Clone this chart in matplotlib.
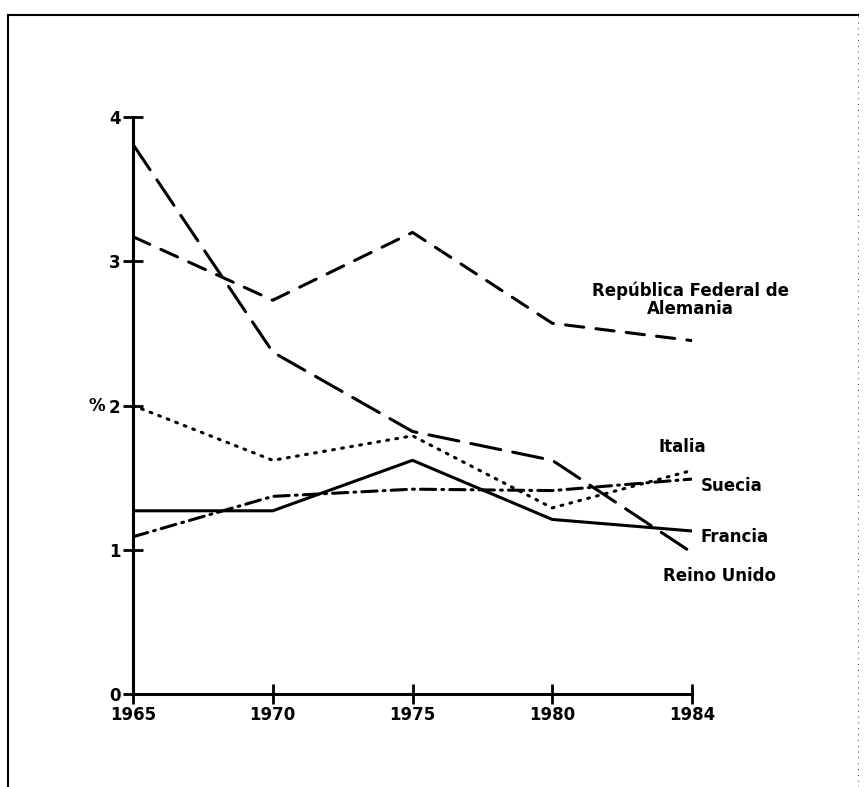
import matplotlib.pyplot as plt
from matplotlib.lines import Line2D

years = ['1965', '1970', '1975', '1980', '1984']
reino_unido = [3.81, 2.37, 1.82, 1.62, 0.98]
alemania = [3.17, 2.73, 3.20, 2.57, 2.45]
italia = [2.00, 1.62, 1.79, 1.29, 1.55]
suecia = [1.09, 1.37, 1.42, 1.41, 1.49]
francia = [1.27, 1.27, 1.62, 1.21, 1.13]

plt.rcParams['font.family'] = 'DejaVu Sans'
plt.rcParams['font.weight'] = 'bold'

fig = plt.figure(figsize=(8.65, 7.87), dpi=100)
ax = fig.add_axes([0.1538, 0.1182, 0.6462, 0.7331])

x = list(range(len(years)))
lw = 2.2
ax.plot(x, reino_unido, color='k', lw=lw, linestyle=(0, (10, 4)), dash_capstyle='round')
ax.plot(x, alemania, color='k', lw=lw, linestyle=(0, (6, 4)), dash_capstyle='round')
ax.plot(x, italia, color='k', lw=lw, linestyle=(0, (0.6, 2.4)), dash_capstyle='round')
ax.plot(x, suecia, color='k', lw=lw, linestyle=(0, (5, 2, 0.6, 2)), dash_capstyle='round')
ax.plot(x, francia, color='k', lw=lw, linestyle='-')

ax.set_xlim(0, 4)
ax.set_ylim(0, 4)
ax.set_xticks(x)
ax.set_xticklabels(years)
ax.set_yticks([0, 1, 2, 3, 4])
ax.tick_params(direction='inout', length=14, width=2, labelsize=12, pad=2)
for lab in ax.get_xticklabels() + ax.get_yticklabels():
    lab.set_fontweight('bold')
ax.spines['top'].set_visible(False)
ax.spines['right'].set_visible(False)
ax.spines['left'].set_linewidth(2.2)
ax.spines['bottom'].set_linewidth(2.2)

ax.text(-0.2, 2, '%', ha='right', va='center', fontsize=12, fontweight='bold', clip_on=False)

txt = dict(fontsize=12, fontweight='bold', clip_on=False)
ax.text(3.99, 2.73, 'República Federal de\nAlemania', ha='center', va='center',
        multialignment='center', linespacing=1.0, **txt)
ax.text(3.76, 1.71, 'Italia', ha='left', va='center', **txt)
ax.text(4.06, 1.44, 'Suecia', ha='left', va='center', **txt)
ax.text(4.06, 1.09, 'Francia', ha='left', va='center', **txt)
ax.text(3.79, 0.82, 'Reino Unido', ha='left', va='center', **txt)

# page frame
W, H = 865, 787
fig.add_artist(Line2D([8 / W, 8 / W], [0, 1 - 15 / H], color='k', lw=1.5))
fig.add_artist(Line2D([8 / W, 858 / W], [1 - 15 / H, 1 - 15 / H], color='k', lw=1.5))
fig.add_artist(Line2D([858 / W, 858 / W], [0, 1 - 15 / H], color='k', lw=0.6, linestyle=(0, (1, 6))))

fig.savefig('out.png', dpi=100)
